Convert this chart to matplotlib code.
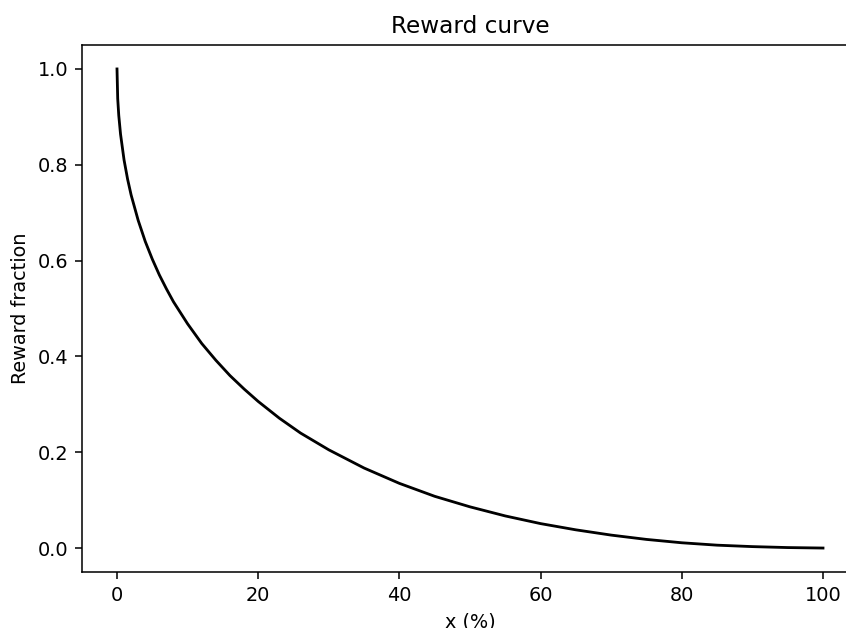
import matplotlib
matplotlib.use("Agg")
import matplotlib.pyplot as plt

# Values
x_pct = [0, 0.1, 0.25, 0.5, 1, 1.5, 2, 3, 4, 5, 6, 7, 8, 10, 12, 14, 16, 18, 20,
         23, 26, 30, 35, 40, 45, 50, 55, 60, 65, 70, 75, 80, 85, 90, 95, 100]
reward = [1.000, 0.938, 0.903, 0.864, 0.810, 0.770, 0.737, 0.684, 0.640, 0.603,
          0.570, 0.541, 0.514, 0.468, 0.427, 0.392, 0.360, 0.332, 0.306,
          0.271, 0.240, 0.205, 0.167, 0.135, 0.108, 0.086, 0.067, 0.051,
          0.038, 0.027, 0.018, 0.011, 0.006, 0.003, 0.001, 0.000]

title = "Reward curve"
xlabel = "x (%)"
ylabel = "Reward fraction"

dpi = 139
W, H = 846, 628
fig = plt.figure(figsize=(W / dpi, H / dpi), dpi=dpi)
# axes extend past the right edge of the canvas, as in the reference (right spine cropped)
ax = fig.add_axes([81.7 / W, 1 - 572 / H, (858.3 - 81.7) / W, (572 - 45) / H])

ax.plot(x_pct, reward, color="black", linewidth=1.45)
ax.set_xlim(-5, 105)
ax.set_ylim(-0.05, 1.05)
ax.set_title(title)
ax.set_xlabel(xlabel)
ax.set_ylabel(ylabel)
ax.set_xticks([0, 20, 40, 60, 80, 100])
ax.set_yticks([0.0, 0.2, 0.4, 0.6, 0.8, 1.0])

fig.savefig("out.png", dpi=dpi)
